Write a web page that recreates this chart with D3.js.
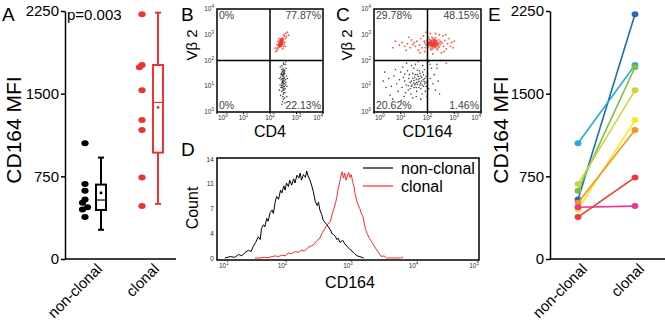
<!DOCTYPE html>
<html>
<head>
<meta charset="utf-8">
<script src="https://cdn.jsdelivr.net/npm/d3@7"></script>
<style>
  body { margin: 0; background: #fff; }
  svg { display: block; font-family: "Liberation Sans", Arial, sans-serif; }
</style>
</head>
<body>
<svg id="fig" width="665" height="327"></svg>
<script>
// ---- data ----------------------------------------------------------
const groups = ['non-clonal', 'clonal']
const mfiTicks = [0, 750, 1500, 2250]

// CD164 MFI per patient, non-clonal vs clonal compartment
const mfiNonClonal = [540, 1050, 620, 680, 450, 510, 380, 470]
const mfiClonal = [2220, 1760, 1740, 1530, 1260, 1170, 740, 480]
const pairColours = ['#1f6db5', '#2aa8e0', '#7cbf42', '#c9d63b', '#ffe71a', '#f7931e', '#ee3b34', '#e8388f']

// box summaries: [low whisker, q1, median, q3, high whisker, mean]
const boxNonClonal = [265, 445, 535, 675, 920, 600]
const boxClonal = [500, 965, 1420, 1760, 2235, 1375]

// flow plots, values are log10 fluorescence
const decades = [0, 1, 2, 3, 4]
const quadrantsB = ['0%', '77.87%', '0%', '22.13%']
const quadrantsC = ['29.78%', '48.15%', '20.62%', '1.46%']

const cd4Pos = [[2.40,2.70],[2.42,2.65],[2.38,2.62],[2.45,2.72],[2.44,2.78],[2.36,2.58],[2.41,2.74],[2.47,2.80],[2.39,2.68],[2.43,2.60],[2.35,2.55],[2.46,2.68],[2.40,2.82],[2.37,2.66],[2.44,2.70],[2.42,2.76],[2.34,2.62],[2.48,2.75],[2.39,2.56],[2.41,2.63],[2.45,2.64],[2.38,2.74],[2.43,2.84],[2.36,2.70],[2.40,2.60],[2.46,2.76],[2.33,2.58],[2.44,2.66],[2.42,2.71],[2.37,2.52],[2.49,2.82],[2.41,2.79],[2.35,2.65],[2.47,2.70],[2.39,2.77],[2.43,2.57],[2.38,2.70],[2.45,2.86],[2.40,2.67],[2.36,2.61],[2.44,2.74],[2.42,2.68],[2.50,2.88],[2.32,2.54],[2.41,2.58],
  [2.41,2.69],[2.39,2.64],[2.43,2.73],[2.37,2.60],[2.45,2.67],[2.40,2.76],[2.42,2.62],[2.38,2.67],[2.44,2.81],[2.36,2.56],[2.46,2.73],[2.40,2.72],[2.41,2.55],[2.43,2.66],[2.39,2.80],[2.47,2.78],[2.35,2.60],[2.42,2.79],[2.44,2.62],[2.38,2.58],[2.46,2.83],[2.40,2.64],[2.37,2.69],[2.43,2.70],[2.48,2.72],
  [2.55,2.95],[2.30,2.45],[2.52,3.00],[2.28,2.50],[2.58,2.85],[2.26,2.40],[2.60,3.05],[2.50,2.55],[2.30,2.75],[2.56,2.70],[2.22,2.35],[2.62,2.92],[2.48,2.45],[2.34,2.85],[2.66,3.10],[2.27,2.62],[2.53,2.62],[2.20,2.48],[2.58,2.55],[2.70,2.98]]
const cd4Neg = [[2.50,1.20],[2.45,1.10],[2.55,1.30],[2.48,0.95],[2.52,1.45],[2.42,1.25],[2.58,1.05],[2.46,1.55],[2.53,0.85],[2.40,1.35],[2.56,1.60],[2.49,1.70],[2.44,0.80],[2.60,1.15],[2.51,1.00],[2.47,1.40],[2.54,1.20],[2.38,1.05],[2.62,1.40],[2.50,0.70],[2.45,1.80],[2.57,0.90],[2.43,1.50],[2.52,1.85],[2.48,0.60],[2.55,1.50],[2.41,0.95],[2.59,1.25],[2.46,1.15],[2.53,1.65],[2.36,1.30],[2.64,1.00],[2.50,0.50],[2.44,1.65],[2.57,0.75],[2.49,1.30],[2.51,1.90],[2.40,0.65],[2.61,1.70],[2.47,0.40],[2.55,0.55],[2.42,1.45],[2.58,1.85],[2.35,0.85],[2.52,1.10],[2.48,1.58],[2.66,1.30],[2.45,0.30],[2.56,0.35],[2.39,1.75],[2.63,0.60],[2.50,1.40],[2.44,1.02],[2.54,0.98],[2.60,1.95],
  [2.50,1.25],[2.47,1.05],[2.53,1.35],[2.49,1.15],[2.51,0.90],[2.46,1.30],[2.54,1.55],[2.48,1.45],[2.52,0.75],[2.50,1.60],[2.45,0.95],[2.55,1.10],[2.49,0.85],[2.51,1.50],[2.47,1.20]]

const cd164Pos = [[2.20,2.65],[2.10,2.70],[2.30,2.60],[2.15,2.55],[2.25,2.75],[2.05,2.62],[2.35,2.68],[2.18,2.80],[2.28,2.50],[2.00,2.72],[2.40,2.58],[2.12,2.48],[2.22,2.85],[1.95,2.60],[2.32,2.78],[2.08,2.82],[2.45,2.70],[2.26,2.62],[1.90,2.68],[2.38,2.48],[2.14,2.66],[2.02,2.52],[2.48,2.62],[2.20,2.45],[2.30,2.88],[1.98,2.78],[2.42,2.80],[2.16,2.72],[2.06,2.58],[2.34,2.55],[2.24,2.68],[1.92,2.50],[2.50,2.74],[2.11,2.60],[2.28,2.70],[2.03,2.90],[2.40,2.66],[2.19,2.58],[1.88,2.75],[2.36,2.42],[2.09,2.76],[2.27,2.82],[2.44,2.52],[2.13,2.42],[2.00,2.66],[2.55,2.68],[2.23,2.55],[2.31,2.64],[2.17,2.90],[2.06,2.70],
  [2.22,2.70],[2.18,2.62],[2.26,2.66],[2.14,2.74],[2.30,2.72],[2.20,2.58],[2.24,2.60],[2.16,2.68],[2.28,2.64],[2.12,2.56],[2.34,2.62],[2.21,2.76],[2.19,2.52],[2.27,2.57],[2.25,2.80],[2.15,2.62],[2.32,2.70],[2.08,2.66],[2.23,2.64],[2.29,2.78],[2.17,2.60],[2.36,2.74],[2.04,2.68],[2.26,2.52],[2.13,2.78],[2.38,2.62],[2.21,2.67],[2.31,2.56],[2.10,2.64],[2.24,2.72],
  [1.70,2.60],[1.60,2.75],[1.80,2.50],[1.55,2.55],[1.75,2.85],[1.65,2.40],[1.50,2.70],[1.85,2.95],[1.45,2.62],[1.40,2.80],[1.35,2.50],[1.72,2.30],[2.60,2.55],[2.65,2.78],[2.70,2.45],[2.58,2.95],[2.75,2.65],[2.62,2.35],[2.80,2.85],[2.85,2.55],[2.68,3.00],[2.90,2.70],[2.52,2.30],[2.44,3.00],[2.10,3.05],[1.95,3.10],[2.30,3.05],[2.00,2.30],[2.20,2.25],[1.90,2.35],[1.25,2.65],[1.15,2.55],[1.30,2.90],[1.05,2.70],[0.95,2.60],[0.80,2.75],[0.70,2.50],[1.20,2.40],[2.95,2.50],[3.00,2.75],
  [2.10,1.85],[2.35,1.70],[2.50,2.00],[2.70,1.90],[1.95,2.00]]
const cd164Neg = [[1.40,1.20],[1.55,1.10],[1.30,1.30],[1.65,1.25],[1.50,0.95],[1.75,1.40],[1.20,1.05],[1.85,1.00],[1.45,1.50],[1.60,0.80],[1.35,0.90],[1.90,1.30],[1.10,1.35],[1.70,1.60],[1.25,1.60],[1.80,0.70],[1.52,1.35],[1.95,1.15],[1.05,0.95],[1.62,1.45],[1.38,0.70],[2.00,1.50],[1.15,1.20],[1.48,1.70],[1.72,1.05],[0.95,1.25],[1.88,1.65],[1.28,0.85],[1.58,0.60],[2.05,0.90],[1.00,1.55],[1.42,1.05],[1.78,1.20],[0.85,1.10],[2.10,1.30],[1.32,1.45],[1.68,0.95],[1.18,0.75],[1.92,0.80],[0.75,1.40],[1.55,1.85],[2.15,1.70],[1.08,1.75],[1.82,1.80],[0.65,1.00],[1.22,1.90],[2.20,1.10],[1.45,0.55],[0.90,0.80],[1.98,0.60],[0.55,1.30],[2.25,1.45],[1.12,0.60],[1.65,1.95],[0.80,1.65],[2.30,0.85],[0.45,0.95],[1.35,1.15],[1.85,1.45],[1.58,1.28],[1.74,1.12],[1.50,1.22],[1.95,1.38],[1.28,1.02],[2.40,1.20],[0.40,1.55],[1.02,0.45],[2.35,1.85],[0.60,0.65],[1.75,0.50],[2.45,0.70],[0.35,1.20],[1.40,1.80],[2.05,1.95],[0.70,0.50],[1.62,1.08],[1.88,1.18],[1.15,1.48],
  [1.60,1.15],[1.70,1.30],[1.80,1.05],[1.52,1.05],[1.66,1.38],[1.90,1.10],[1.75,0.90],[1.45,1.30],[1.85,1.25],[1.58,0.95],[1.72,1.50],[1.95,1.00],[1.62,1.62],[1.82,1.55],[1.40,1.00],[2.00,1.20],[1.55,1.45],[1.78,1.35],[1.68,1.18],[1.48,1.12]]

// CD164 histograms: [log10 CD164, count]
const histDecades = [1, 2, 3, 4, 5]
const countTicks = [0, 3.5, 7, 10.5, 14]
const histNonClonal = [[1.12,0],[1.20,0.2],[1.27,0.1],[1.33,0.5],[1.38,0.3],[1.43,0.8],[1.48,1.1],[1.52,0.9],[1.55,1.6],[1.59,2.2],[1.63,3.0],[1.66,2.6],[1.68,4.2],[1.71,4.7],[1.73,4.4],[1.76,5.6],[1.78,5.2],[1.81,6.4],[1.84,6.8],[1.86,6.3],[1.89,8.0],[1.91,8.7],[1.94,8.3],[1.97,9.6],[1.99,9.2],[2.02,10.2],[2.04,9.6],[2.06,10.6],[2.09,10.1],[2.11,11.0],[2.14,10.3],[2.17,11.2],[2.19,10.6],[2.22,11.7],[2.25,11.3],[2.27,12.0],[2.29,11.0],[2.32,11.8],[2.35,11.4],[2.37,12.3],[2.39,11.6],[2.42,11.0],[2.45,10.1],[2.47,9.4],[2.50,8.0],[2.53,7.4],[2.55,7.9],[2.57,6.8],[2.60,6.1],[2.62,5.4],[2.65,5.0],[2.68,4.7],[2.70,4.4],[2.73,4.0],[2.76,3.4],[2.78,3.3],[2.81,3.0],[2.83,2.6],[2.85,2.8],[2.88,2.2],[2.92,2.5],[2.95,2.0],[2.99,1.6],[3.03,1.2],[3.06,1.0],[3.10,0.6],[3.14,0.3],[3.18,0.2],[3.24,0]]
const histClonal = [[1.58,0],[1.65,0],[1.72,0.1],[1.78,0.05],[1.84,0.2],[1.89,0.3],[1.94,0.2],[1.99,0.4],[2.04,0.3],[2.09,0.7],[2.14,0.6],[2.19,0.9],[2.24,0.8],[2.29,1.1],[2.34,1.0],[2.39,1.5],[2.44,1.7],[2.48,1.9],[2.52,2.4],[2.57,2.8],[2.61,3.6],[2.65,4.2],[2.69,4.8],[2.73,5.1],[2.76,6.3],[2.78,6.8],[2.81,7.8],[2.83,8.7],[2.85,9.8],[2.87,10.6],[2.89,11.5],[2.91,12.2],[2.93,11.3],[2.95,12.0],[2.97,11.0],[2.99,11.6],[3.01,12.1],[3.03,11.4],[3.05,11.8],[3.07,10.8],[3.09,10.2],[3.11,9.0],[3.13,8.2],[3.15,7.6],[3.18,7.0],[3.20,6.4],[3.23,5.8],[3.25,4.8],[3.27,4.0],[3.29,3.5],[3.32,2.9],[3.36,2.3],[3.40,1.7],[3.44,1.1],[3.48,0.6],[3.51,0.2],[3.55,0.3],[3.59,0],[3.80,0],[3.82,0.15],[3.84,0]]

// ---- helpers -------------------------------------------------------
const RED = '#ee3333'
const svg = d3.select('#fig')

function powLabel(sel, k) {
    sel.append('tspan').text('10')
    sel.append('tspan').attr('dy', -3).attr('font-size', 4.5).text(k)
}

function panelLetter(x, y, t) {
    svg.append('text').attr('x', x).attr('y', y).attr('font-size', 19).text(t)
}

// simple dodge so overlapping dots sit side by side
function dodge(values, y, r) {
    const order = values.map((v, i) => i).sort((a, b) => values[b] - values[a])
    const off = new Array(values.length).fill(0)
    let prev = null
    order.forEach(i => {
        if (prev !== null && Math.abs(y(values[i]) - y(values[prev])) < 2 * r) {
            off[i] = off[prev] >= 0 ? -2.5 : 2.5
        }
        prev = i
    })
    return off
}

// ---- MFI panels (A, E) --------------------------------------------
const yMfi = d3.scaleLinear().domain([0, 2250]).range([259, 11])

function mfiAxis(x0, x1, labelX) {
    const g = svg.append('g')
        .attr('transform', 'translate(' + x0 + ',0)')
        .call(d3.axisLeft(yMfi).tickValues(mfiTicks).tickFormat(d3.format('d'))
            .tickSize(4).tickSizeOuter(0).tickPadding(2))
    g.selectAll('text').attr('font-size', 15).attr('fill', '#000')
        .attr('font-family', '"Liberation Sans", Arial, sans-serif')
    g.selectAll('path, line').attr('stroke', '#000').attr('stroke-width', 1.5)

    svg.append('line')
        .attr('x1', x0).attr('x2', x1)
        .attr('y1', yMfi(0)).attr('y2', yMfi(0))
        .attr('stroke', '#000').attr('stroke-width', 1.5)

    svg.append('text')
        .attr('transform', 'translate(' + labelX + ',' + 130 + ') rotate(-90)')
        .attr('text-anchor', 'middle')
        .attr('font-size', 21)
        .text('CD164 MFI')
}

function groupLabels(xs) {
    groups.forEach(g => {
        svg.append('text')
            .attr('transform', 'translate(' + (xs(g) + 10) + ',270) rotate(-45)')
            .attr('text-anchor', 'end')
            .attr('font-size', 15)
            .text(g)
    })
}

// A: dot + box plot
const xA = d3.scalePoint().domain(groups).range([93, 150])
mfiAxis(65, 176, 21)
groupLabels(xA)
panelLetter(2, 21, 'A')
svg.append('text').attr('x', 67).attr('y', 20).attr('font-size', 15).text('p=0.003')

function boxPlot(cx, b, colour) {
    const g = svg.append('g').attr('stroke', colour).attr('stroke-width', 2).attr('fill', 'none')
    const w = 10, cap = 6
    g.append('line').attr('x1', cx).attr('x2', cx).attr('y1', yMfi(b[0])).attr('y2', yMfi(b[1]))
    g.append('line').attr('x1', cx).attr('x2', cx).attr('y1', yMfi(b[3])).attr('y2', yMfi(b[4]))
    ;[b[0], b[4]].forEach(v => g.append('line')
        .attr('x1', cx - cap / 2).attr('x2', cx + cap / 2).attr('y1', yMfi(v)).attr('y2', yMfi(v)))
    g.append('rect').attr('x', cx - w / 2).attr('width', w)
        .attr('y', yMfi(b[3])).attr('height', yMfi(b[1]) - yMfi(b[3]))
    g.append('line').attr('x1', cx - w / 2).attr('x2', cx + w / 2)
        .attr('y1', yMfi(b[2])).attr('y2', yMfi(b[2])).attr('stroke-width', 1.2)
    svg.append('rect').attr('x', cx - 1.3).attr('y', yMfi(b[5]) - 1.3)
        .attr('width', 2.6).attr('height', 2.6).attr('fill', colour)
}

;[[mfiNonClonal, boxNonClonal, '#000'], [mfiClonal, boxClonal, RED]].forEach(([vals, box, col], i) => {
    const cx = xA(groups[i])
    const off = dodge(vals, yMfi, 3.2)
    svg.append('g').selectAll('ellipse')
        .data(vals)
        .join('ellipse')
        .attr('cx', (d, j) => cx - 8 + off[j])
        .attr('cy', d => yMfi(d))
        .attr('rx', 3.6).attr('ry', 3)
        .attr('fill', col)
    boxPlot(cx + 8, box, col)
})

// E: paired lines
const xE = d3.scalePoint().domain(groups).range([578, 635])
mfiAxis(550, 665, 508)
groupLabels(xE)
panelLetter(488, 21, 'E')

const pairs = mfiNonClonal.map((v, i) => ({ a: v, b: mfiClonal[i], c: pairColours[i] }))
const pg = svg.append('g').selectAll('g').data(pairs).join('g')
pg.append('line')
    .attr('x1', xE('non-clonal')).attr('y1', d => yMfi(d.a))
    .attr('x2', xE('clonal')).attr('y2', d => yMfi(d.b))
    .attr('stroke', d => d.c).attr('stroke-width', 1.6)
pg.append('ellipse').attr('cx', xE('non-clonal')).attr('cy', d => yMfi(d.a))
    .attr('rx', 3.4).attr('ry', 3).attr('fill', d => d.c)
pg.append('ellipse').attr('cx', xE('clonal')).attr('cy', d => yMfi(d.b))
    .attr('rx', 3.4).attr('ry', 3).attr('fill', d => d.c)

// ---- flow dot plots (B, C) -----------------------------------------
function flowPlot(x0, x1, pos, neg, quads, xTitle, titleX) {
    const x = d3.scaleLinear().domain([0, 4]).range([x0, x1])
    const y = d3.scaleLinear().domain([0, 4]).range([112, 9])
    const g = svg.append('g')

    g.append('g').selectAll('circle').data(neg).join('circle')
        .attr('cx', d => x(d[0])).attr('cy', d => y(d[1]))
        .attr('r', 0.8).attr('fill', '#222').attr('opacity', 0.85)
    g.append('g').selectAll('circle').data(pos).join('circle')
        .attr('cx', d => x(d[0])).attr('cy', d => y(d[1]))
        .attr('r', 0.95).attr('fill', '#f03a2a').attr('opacity', 0.8)

    g.append('rect').attr('x', x(0)).attr('y', y(4))
        .attr('width', x(4) - x(0)).attr('height', y(0) - y(4))
        .attr('fill', 'none').attr('stroke', '#000').attr('stroke-width', 1.5)
    g.append('line').attr('x1', x(2)).attr('x2', x(2)).attr('y1', y(0)).attr('y2', y(4))
        .attr('stroke', '#000').attr('stroke-width', 1.5)
    g.append('line').attr('x1', x(0)).attr('x2', x(4)).attr('y1', y(2)).attr('y2', y(2))
        .attr('stroke', '#000').attr('stroke-width', 1.5)

    const qs = g.append('g').attr('font-size', 10.5).attr('fill', '#444')
    qs.append('text').attr('x', x(0) + 2).attr('y', y(4) + 10).text(quads[0])
    qs.append('text').attr('x', x(4) - 2).attr('y', y(4) + 10).attr('text-anchor', 'end').text(quads[1])
    qs.append('text').attr('x', x(0) + 2).attr('y', y(0) - 3).text(quads[2])
    qs.append('text').attr('x', x(4) - 2).attr('y', y(0) - 3).attr('text-anchor', 'end').text(quads[3])

    // decade ticks
    decades.forEach((k, i) => {
        const anchor = i === 0 ? 'start' : (i === decades.length - 1 ? 'end' : 'middle')
        g.append('line').attr('x1', x(k)).attr('x2', x(k)).attr('y1', y(0)).attr('y2', y(0) + 2)
            .attr('stroke', '#000')
        g.append('text').attr('x', x(k) + (i === 0 ? 1 : 0)).attr('y', y(0) + 8)
            .attr('text-anchor', anchor).attr('font-size', 6.5).attr('fill', '#333')
            .call(powLabel, k)
        g.append('text').attr('x', x(0) - 3).attr('y', y(k) + 2)
            .attr('text-anchor', 'end').attr('font-size', 6.5).attr('fill', '#333')
            .call(powLabel, k)
    })

    g.append('text').attr('x', (x0 + x1) / 2).attr('y', 137)
        .attr('text-anchor', 'middle').attr('font-size', 16).text(xTitle)
    g.append('text')
        .attr('transform', 'translate(' + titleX + ',45) rotate(-90)')
        .attr('text-anchor', 'middle').attr('font-size', 15).text('Vβ 2')
}

flowPlot(217, 323, cd4Pos, cd4Neg, quadrantsB, 'CD4', 197)
panelLetter(181, 21, 'B')
flowPlot(374, 481, cd164Pos, cd164Neg, quadrantsC, 'CD164', 352)
panelLetter(336, 21, 'C')

// ---- D: CD164 histogram overlay ------------------------------------
const xD = d3.scaleLinear().domain([1, 5]).range([217, 479])
const yD = d3.scaleLinear().domain([0, 14]).range([258, 159])
panelLetter(181, 156, 'D')

const line = d3.line().x(d => xD(d[0])).y(d => yD(d[1]))
svg.append('path').datum(histNonClonal).attr('d', line)
    .attr('fill', 'none').attr('stroke', '#000').attr('stroke-width', 1)
svg.append('path').datum(histClonal).attr('d', line)
    .attr('fill', 'none').attr('stroke', '#ff2a2a').attr('stroke-width', 1)

svg.append('rect').attr('x', 217).attr('y', 158).attr('width', 262).attr('height', 102)
    .attr('fill', 'none').attr('stroke', '#000').attr('stroke-width', 1.5)

countTicks.forEach(v => {
    svg.append('text').attr('x', 214).attr('y', yD(v) + 2.5)
        .attr('text-anchor', 'end').attr('font-size', 7).attr('fill', '#333')
        .text(Math.round(v))
})
histDecades.forEach((k, i) => {
    const anchor = i === 0 ? 'start' : (i === histDecades.length - 1 ? 'end' : 'middle')
    svg.append('text').attr('x', xD(k) + (i === 0 ? 2 : 0)).attr('y', 268)
        .attr('text-anchor', anchor).attr('font-size', 6.5).attr('fill', '#333')
        .call(powLabel, k)
})

svg.append('text').attr('x', 350).attr('y', 288).attr('text-anchor', 'middle')
    .attr('font-size', 16).text('CD164')
svg.append('text').attr('transform', 'translate(198,208) rotate(-90)')
    .attr('text-anchor', 'middle').attr('font-size', 16).text('Count')

// legend
const legend = [['non-clonal', '#000', 168], ['clonal', '#ff2a2a', 186]]
legend.forEach(([t, c, ly]) => {
    svg.append('line').attr('x1', 363).attr('x2', 393).attr('y1', ly).attr('y2', ly)
        .attr('stroke', c).attr('stroke-width', 1.2)
    svg.append('text').attr('x', 401).attr('y', ly + 6).attr('font-size', 16).text(t)
})
</script>
</body>
</html>
